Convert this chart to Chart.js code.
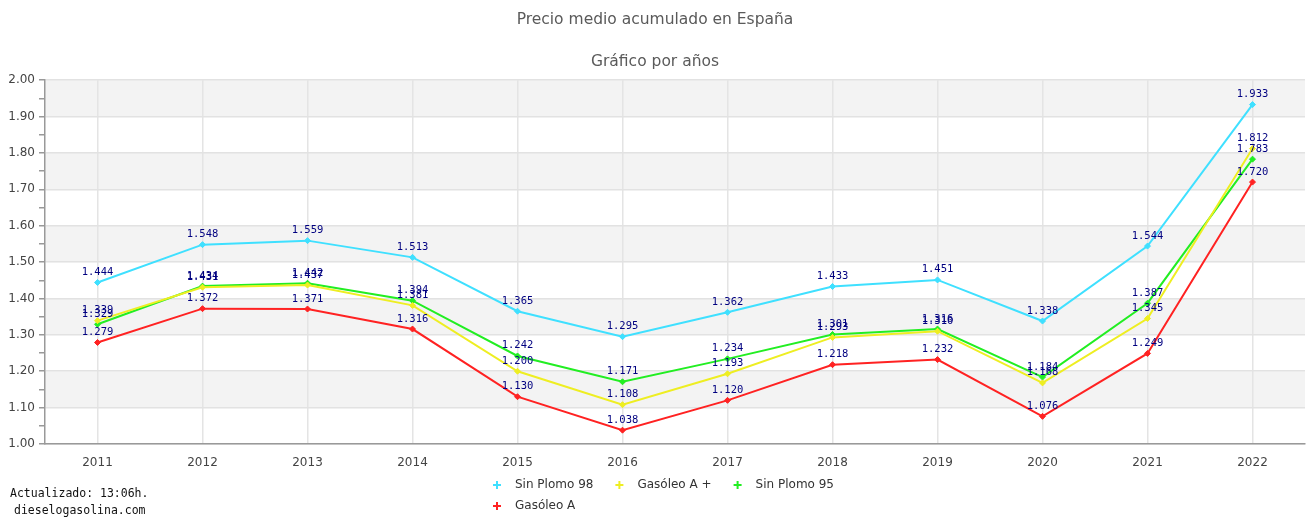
<!DOCTYPE html>
<html>
<head>
<meta charset="utf-8">
<script src="https://cdn.jsdelivr.net/npm/chart.js@4"></script>
<style>
  html, body { margin: 0; padding: 0; background: #fff; }
  #wrap { width: 1310px; height: 518px; position: relative; }
</style>
</head>
<body>
<div id="wrap"><canvas id="chart"></canvas></div>
<script>
// Precio medio acumulado por años (EUR/l)
const years = ['2011', '2012', '2013', '2014', '2015', '2016', '2017', '2018', '2019', '2020', '2021', '2022'];

const sinPlomo98   = [1.444, 1.548, 1.559, 1.513, 1.365, 1.295, 1.362, 1.433, 1.451, 1.338, 1.544, 1.933];
const gasoleoAPlus = [1.339, 1.431, 1.437, 1.381, 1.200, 1.108, 1.193, 1.293, 1.310, 1.168, 1.345, 1.812];
const sinPlomo95   = [1.329, 1.434, 1.442, 1.394, 1.242, 1.171, 1.234, 1.301, 1.316, 1.184, 1.387, 1.783];
const gasoleoA     = [1.279, 1.372, 1.371, 1.316, 1.130, 1.038, 1.120, 1.218, 1.232, 1.076, 1.249, 1.720];

const SERIES = [
  { label: 'Sin Plomo 98', data: sinPlomo98,   color: '#3fe0ff' },
  { label: 'Gasóleo A +',  data: gasoleoAPlus, color: '#eeee22' },
  { label: 'Sin Plomo 95', data: sinPlomo95,   color: '#22ee22' },
  { label: 'Gasóleo A',    data: gasoleoA,     color: '#ff2222' },
];

const isMajor = (v) => Math.round(v * 100) % 10 === 0;

// alternating grey bands behind the grid
const bandsPlugin = {
  id: 'bands',
  beforeDraw(chart) {
    const { ctx, chartArea, scales: { y } } = chart;
    ctx.save();
    ctx.fillStyle = '#f3f3f3';
    for (let v = 1.1; v < 2.0; v += 0.2) {
      const top = y.getPixelForValue(v + 0.1);
      const bot = y.getPixelForValue(v);
      ctx.fillRect(chartArea.left, top, chartArea.right - chartArea.left, bot - top);
    }
    ctx.restore();
  }
};

// value labels above every point
const valueLabels = {
  id: 'valueLabels',
  afterDatasetsDraw(chart) {
    const ctx = chart.ctx;
    ctx.save();
    ctx.font = '10.5px "DejaVu Sans Mono", monospace';
    ctx.fillStyle = '#000080';
    ctx.textAlign = 'center';
    ctx.textBaseline = 'bottom';
    chart.data.datasets.forEach((ds, i) => {
      chart.getDatasetMeta(i).data.forEach((pt, j) => {
        ctx.fillText(Number(ds.data[j]).toFixed(3), pt.x, pt.y - 5);
      });
    });
    ctx.restore();
  }
};

// legend in two rows + footer text
const bottomText = {
  id: 'bottomText',
  afterDraw(chart) {
    const ctx = chart.ctx;
    ctx.save();
    ctx.font = '12px "DejaVu Sans", sans-serif';
    ctx.textBaseline = 'middle';
    const rows = [[0, 1, 2], [3]];
    rows.forEach((row, r) => {
      let x = 497;
      const yy = 485 + r * 21;
      row.forEach(i => {
        const ds = chart.data.datasets[i];
        ctx.strokeStyle = ds.borderColor;
        ctx.lineWidth = 2;
        ctx.beginPath();
        ctx.moveTo(x - 4, yy); ctx.lineTo(x + 4, yy);
        ctx.moveTo(x, yy - 4); ctx.lineTo(x, yy + 4);
        ctx.stroke();
        ctx.fillStyle = '#333';
        ctx.textAlign = 'left';
        ctx.fillText(ds.label, x + 18, yy);
        x += 18 + ctx.measureText(ds.label).width + 26;
      });
    });

    ctx.font = '11.5px "DejaVu Sans Mono", monospace';
    ctx.fillStyle = '#111';
    ctx.fillText('Actualizado: 13:06h.', 10, 494);
    ctx.fillText('dieselogasolina.com', 14, 511);
    ctx.restore();
  }
};

new Chart(document.getElementById('chart'), {
  type: 'line',
  data: {
    labels: years,
    datasets: SERIES.map(s => ({
      label: s.label,
      data: s.data,
      borderColor: s.color,
      backgroundColor: s.color,
      borderWidth: 2,
      pointStyle: 'rectRot',
      pointRadius: 3,
      pointBorderWidth: 1,
      tension: 0,
    }))
  },
  options: {
    responsive: true,
    maintainAspectRatio: false,
    animation: false,
    layout: { padding: { left: 0, right: 0, top: 0, bottom: 35.6 } },
    plugins: {
      legend: { display: false },
      tooltip: { enabled: false },
      title: {
        display: true,
        text: 'Precio medio acumulado en España',
        color: '#5a5a5a',
        font: { family: 'DejaVu Sans', size: 15.5, weight: 'normal' },
        padding: { top: 11, bottom: 23 }
      },
      subtitle: {
        display: true,
        text: 'Gráfico por años',
        color: '#5a5a5a',
        font: { family: 'DejaVu Sans', size: 15.5, weight: 'normal' },
        padding: { top: 0, bottom: 9 }
      }
    },
    scales: {
      x: {
        offset: true,
        grid: { color: '#e4e4e4', lineWidth: 1.5, drawTicks: false, offset: false },
        border: { color: '#999', width: 1.5 },
        ticks: {
          color: '#444',
          font: { family: 'DejaVu Sans', size: 12 },
          padding: 12,
          maxRotation: 0,
          autoSkip: false
        }
      },
      y: {
        min: 1,
        max: 2,
        afterFit: (scale) => { scale.width = 45; },
        grid: {
          color: (c) => (c.tick && isMajor(c.tick.value)) ? '#e2e2e2' : 'rgba(0,0,0,0)',
          lineWidth: 1.5,
          tickColor: '#999',
          tickLength: 6
        },
        border: { color: '#999', width: 1.5 },
        ticks: {
          stepSize: 0.05,
          color: '#444',
          font: { family: 'DejaVu Sans', size: 12 },
          padding: 4,
          autoSkip: false,
          callback: (v) => isMajor(v) ? Number(v).toFixed(2) : ''
        }
      }
    }
  },
  plugins: [bandsPlugin, valueLabels, bottomText]
});
</script>
</body>
</html>
